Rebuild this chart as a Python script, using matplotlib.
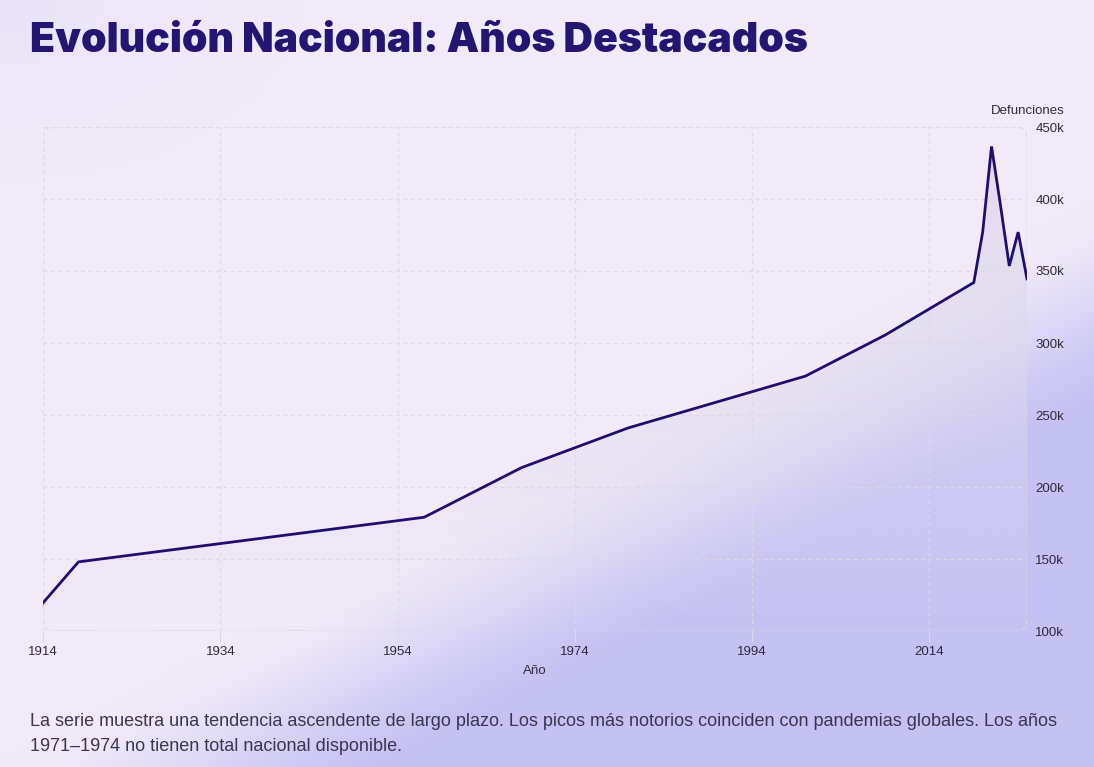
import numpy as np
import matplotlib.pyplot as plt
from matplotlib.patches import FancyBboxPatch
from matplotlib.ticker import FuncFormatter

# national deaths per highlighted year
years = [1914, 1918, 1957, 1968, 1980, 2000, 2009, 2019, 2020, 2021, 2022, 2023, 2024, 2025]
deaths = [119500, 148000, 179000, 213500, 241000, 277000, 305500, 342000, 377000, 436500, 396000, 353500, 377000, 344500]

x_ticks = [1914, 1934, 1954, 1974, 1994, 2014]
y_ticks = [100000, 150000, 200000, 250000, 300000, 350000, 400000, 450000]

title = 'Evolución Nacional: Años Destacados'
caption = ('La serie muestra una tendencia ascendente de largo plazo. Los picos más notorios coinciden con pandemias globales. Los años\n'
           '1971–1974 no tienen total nacional disponible.')

W, H = 1094, 767
fig = plt.figure(figsize=(W / 100, H / 100), dpi=100)

# background: soft lavender, periwinkle glow across the lower right
gy, gx = np.mgrid[0:H, 0:W]
base = np.array([241, 235, 249]) / 255
glow = np.array([196, 193, 243]) / 255
s = 0.456 * (gx - 460) + 0.890 * (gy - 600)
t = np.clip((s + 70) / 200, 0, 1)
t = t * t * (3 - 2 * t)
corner = np.clip(1 - np.sqrt((gx / 300) ** 2 + (gy / 180) ** 2), 0, 1) * 0.5
img = base[None, None, :] * (1 - t[..., None]) + glow[None, None, :] * t[..., None]
img = img * (1 - corner[..., None]) + np.array([226, 220, 248]) / 255 * corner[..., None]
bg = fig.add_axes([0, 0, 1, 1])
bg.imshow(img, aspect='auto', extent=[0, 1, 0, 1], origin='upper')
bg.axis('off')

ax = fig.add_axes([43 / W, 136 / H, 984 / W, 504 / H])
ax.set_facecolor('none')
ax.set_xlim(1914, 2025)
ax.set_ylim(100000, 450000)

# gradient fill under the line
grad = np.linspace(0.92, 0.05, 256)[:, None]
fill_rgba = np.zeros((256, 1, 4))
fill_rgba[..., 0] = 222 / 255
fill_rgba[..., 1] = 217 / 255
fill_rgba[..., 2] = 236 / 255
fill_rgba[..., 3] = grad
im = ax.imshow(fill_rgba, aspect='auto', extent=[1914, 2025, 100000, 450000],
               origin='upper', zorder=1)
poly = ax.fill_between(years, deaths, 100000, color='none', lw=0)
clip = poly.get_paths()[0]
im.set_clip_path(clip, transform=ax.transData)

ax.plot(years, deaths, color='#1e0f6e', lw=2.0, zorder=3, solid_joinstyle='miter')

ax.set_xticks(x_ticks)
ax.set_yticks(y_ticks)
ax.yaxis.tick_right()
ax.yaxis.set_major_formatter(FuncFormatter(lambda v, p: f'{int(v / 1000)}k'))
ax.grid(True, color='#dcd8e6', ls=(0, (3, 3)), lw=0.9)
ax.tick_params(axis='both', colors='#dcd8e6', labelcolor='#2e2a3e',
               labelsize=9.5, length=8, width=0.9)
ax.tick_params(axis='y', length=0, pad=6)
ax.tick_params(axis='x', pad=3)
for lab in ax.get_xticklabels() + ax.get_yticklabels():
    lab.set_family('Liberation Sans')
for sp in ax.spines.values():
    sp.set_visible(False)

frame = FancyBboxPatch((0, 0), 1, 1, boxstyle='round,pad=0,rounding_size=0.012',
                       transform=ax.transAxes, fill=False, ec='#dcd8e6',
                       lw=0.9, ls=(0, (3, 3)), zorder=2, mutation_aspect=2)
ax.add_patch(frame)

ax.set_xlabel('Año', fontsize=9.5, color='#2e2a3e', family='Liberation Sans', labelpad=5)
fig.text(1065 / W, 1 - 111 / H, 'Defunciones', ha='right', va='center',
         fontsize=9.5, color='#2e2a3e', family='Liberation Sans')

fig.text(30 / W, 1 - 41 / H, title, ha='left', va='center', fontsize=29.5,
         fontweight='black', color='#231672', family='Inter')
fig.text(30 / W, 1 - 734 / H, caption, ha='left', va='center', fontsize=13,
         color='#3a3550', family='Liberation Sans', linespacing=1.55)

fig.savefig('out.png', dpi=100)
